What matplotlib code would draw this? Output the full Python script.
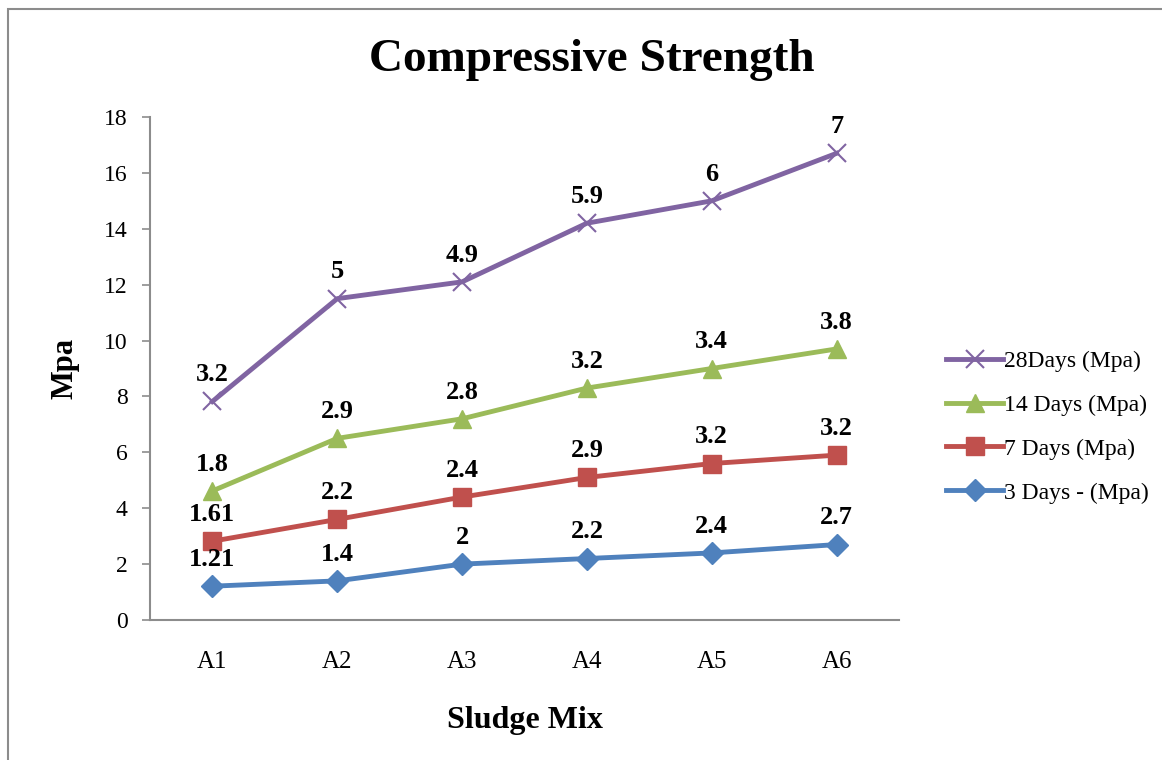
import matplotlib
matplotlib.use("Agg")
import matplotlib.pyplot as plt
from matplotlib.patches import Rectangle
import numpy as np

plt.rcParams["font.family"] = ["Liberation Serif", "DejaVu Serif"]

# ── data (stacked line chart, labels show each series' own value) ──
mixes = ["A1", "A2", "A3", "A4", "A5", "A6"]
days3 = [1.21, 1.4, 2, 2.2, 2.4, 2.7]
days7 = [1.61, 2.2, 2.4, 2.9, 3.2, 3.2]
days14 = [1.8, 2.9, 2.8, 3.2, 3.4, 3.8]
days28 = [3.2, 5, 4.9, 5.9, 6, 7]
series_names = ["3 Days - (Mpa)", "7 Days (Mpa)", "14 Days (Mpa)", "28Days (Mpa)"]

colors = ["#4F81BD", "#C0504D", "#9BBB59", "#8064A2"]
markers = ["D", "s", "^", "x"]
msizes = [11, 13, 13, 13]

raw = np.array([days3, days7, days14, days28])
stacked = np.cumsum(raw, axis=0)
x = np.arange(len(mixes))

fig = plt.figure(figsize=(11.62, 7.6), dpi=100)
fig.patches.append(Rectangle((8 / 1162, -0.1), 1.2, 1 - 9 / 760 + 0.1,
                             transform=fig.transFigure, fill=False,
                             edgecolor="#8c8c8c", linewidth=1.5))
ax = fig.add_axes([150 / 1162, 1 - 620 / 760, 749 / 1162, 503 / 760])

handles = []
for i in range(4):
    (h,) = ax.plot(x, stacked[i], color=colors[i], marker=markers[i],
                   markersize=msizes[i], linewidth=3.5,
                   markeredgewidth=1.5 if markers[i] == "x" else 1,
                   markeredgecolor=colors[i], label=series_names[i])
    handles.append(h)
    for xi, yi, v in zip(x, stacked[i], raw[i]):
        ax.annotate(f"{v:g}", (xi, yi), xytext=(0, 11), textcoords="offset points",
                    ha="center", va="bottom", fontsize=19, fontweight="bold")

ax.set_xlim(-0.5, len(mixes) - 0.5)
ax.set_ylim(0, 18)
ax.set_yticks(np.arange(0, 19, 2))
ax.set_xticks(x)
ax.set_xticklabels(mixes)
ax.tick_params(axis="x", length=0, pad=22, labelsize=18)
ax.tick_params(axis="y", length=6, width=1.2, color="#8c8c8c", pad=10, labelsize=17)
for s in ["top", "right"]:
    ax.spines[s].set_visible(False)
for s in ["left", "bottom"]:
    ax.spines[s].set_color("#8c8c8c")
    ax.spines[s].set_linewidth(1.5)

ax.set_xlabel("Sludge Mix", fontsize=23, fontweight="bold", labelpad=24)
ax.set_ylabel("Mpa", fontsize=22, fontweight="bold", labelpad=18)
fig.text(592 / 1162, 1 - 60 / 760, "Compressive Strength", ha="center", va="center",
         fontsize=34, fontweight="bold")

fig.legend(handles[::-1], series_names[::-1], loc="center left",
           bbox_to_anchor=(925 / 1162, 1 - 427 / 760), frameon=False,
           fontsize=17, handlelength=2.4, handletextpad=0.05, labelspacing=0.95)

fig.savefig("out.png", dpi=100)
